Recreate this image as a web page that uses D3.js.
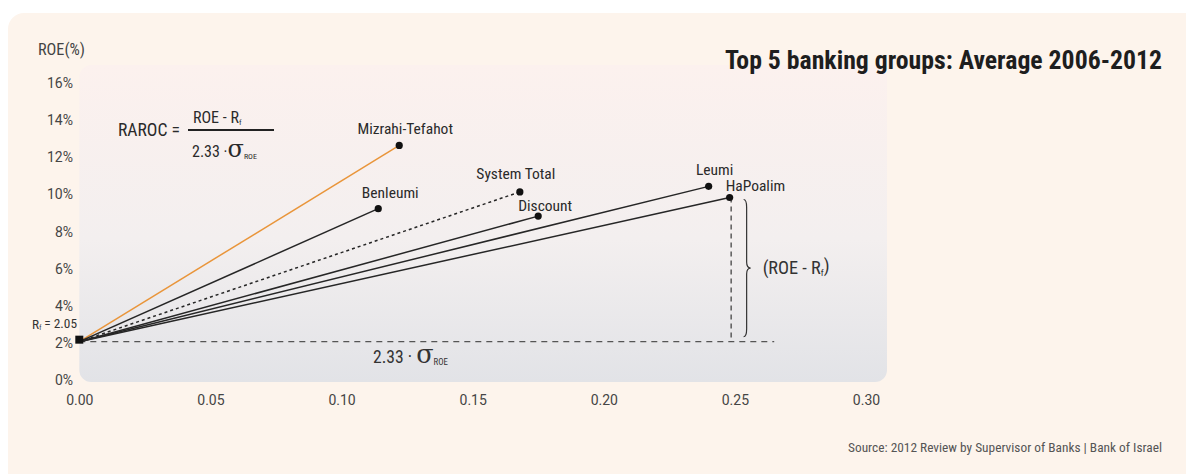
<!DOCTYPE html>
<html>
<head>
<meta charset="utf-8">
<script src="https://cdn.jsdelivr.net/npm/d3@7"></script>
<style>
    body { margin: 0; background: #ffffff; }
    .narrow { font-family: "Roboto Condensed", "Liberation Sans Narrow", "DejaVu Sans Condensed", sans-serif; }
    .tick text { font-family: Roboto, "Noto Sans", sans-serif; font-size: 14px; fill: #454545; }
</style>
</head>
<body>
<div id="chart"></div>
<script>
// data
const groups = ["Mizrahi-Tefahot", "Benleumi", "System Total", "Discount", "Leumi", "HaPoalim"];
const sigmaRoe = [0.122, 0.114, 0.168, 0.175, 0.240, 0.248];   // 2.33*sigma(ROE)
const roeValues = [12.6, 9.2, 10.1, 8.8, 10.4, 9.8];             // ROE %
const riskFree = 2.05;
const xTickValues = [0, 0.05, 0.10, 0.15, 0.20, 0.25, 0.30];
const yTickValues = [0, 2, 4, 6, 8, 10, 12, 14, 16];

const W = 1186, H = 474;

let svg = d3.select("#chart").append("svg")
    .attr("width", W)
    .attr("height", H);

// scale font size so a text gets the width it has in the reference
function fitWidth(sel, target) {
    sel.each(function() {
        let len = this.getComputedTextLength();
        let fs = parseFloat(d3.select(this).style("font-size"));
        d3.select(this).style("font-size", (fs * target / len).toFixed(2) + "px");
    });
}

// background gradient for the plot area
let defs = svg.append("defs");
let grad = defs.append("linearGradient")
    .attr("id", "plotBg")
    .attr("x1", 0).attr("y1", 0).attr("x2", 0).attr("y2", 1);
grad.append("stop").attr("offset", "0%").attr("stop-color", "#fcf1ee");
grad.append("stop").attr("offset", "55%").attr("stop-color", "#f3efef");
grad.append("stop").attr("offset", "100%").attr("stop-color", "#e2e3e7");

// cream panel
svg.append("rect")
    .attr("x", 8).attr("y", 13)
    .attr("width", W + 30).attr("height", H + 30)
    .attr("rx", 16)
    .attr("fill", "#fdf4ec");

// scales
let x = d3.scaleLinear().domain([0, 0.30]).range([79.3, 866]);
let y = d3.scaleLinear().domain([0, 16]).range([379.8, 82.2]);

// plot area
svg.append("rect")
    .attr("x", x(0)).attr("y", 65)
    .attr("width", 887 - x(0)).attr("height", 382 - 65)
    .attr("rx", 12)
    .attr("fill", "url(#plotBg)");

// axes
let xAxis = d3.axisBottom(x).tickValues(xTickValues).tickFormat(d3.format(".2f")).tickSize(0).tickPadding(0);
let yAxis = d3.axisLeft(y).tickValues(yTickValues).tickFormat(d => d + "%").tickSize(0).tickPadding(0);

let gx = svg.append("g")
    .attr("class", "x-axis")
    .attr("transform", "translate(0,405)")
    .call(xAxis);
gx.select(".domain").remove();
gx.selectAll("text").attr("dy", 0);

let gy = svg.append("g")
    .attr("class", "y-axis")
    .attr("transform", "translate(73,0)")
    .call(yAxis);
gy.select(".domain").remove();
gy.selectAll("text").attr("dy", "0.36em");

// y axis title
svg.append("text")
    .attr("class", "narrow")
    .attr("x", 38).attr("y", 55)
    .style("font-size", "15px").style("fill", "#444")
    .text("ROE(%)")
    .call(fitWidth, 47);

// reference lines for HaPoalim
let hp = groups.indexOf("HaPoalim");
svg.append("line")
    .attr("x1", x(0)).attr("x2", x(0.265))
    .attr("y1", y(riskFree)).attr("y2", y(riskFree))
    .attr("stroke", "#555").attr("stroke-width", 1.4)
    .attr("stroke-dasharray", "6,5");
svg.append("line")
    .attr("x1", x(sigmaRoe[hp]) + 1.5).attr("x2", x(sigmaRoe[hp]) + 1.5)
    .attr("y1", y(roeValues[hp])).attr("y2", y(riskFree))
    .attr("stroke", "#444").attr("stroke-width", 1.3)
    .attr("stroke-dasharray", "5,4");

// curly brace
let bx = x(sigmaRoe[hp]) + 14;
let bTop = y(roeValues[hp]) + 2, bBot = y(riskFree) - 5, bMid = (bTop + bBot) / 2;
svg.append("path")
    .attr("d", `M${bx},${bTop} Q${bx + 3},${bTop} ${bx + 3},${bTop + 8} L${bx + 3},${bMid - 6} Q${bx + 3},${bMid} ${bx + 7},${bMid} Q${bx + 3},${bMid} ${bx + 3},${bMid + 6} L${bx + 3},${bBot - 8} Q${bx + 3},${bBot} ${bx},${bBot}`)
    .attr("fill", "none").attr("stroke", "#333").attr("stroke-width", 1.2);

let rtext = svg.append("text")
    .attr("class", "narrow")
    .attr("x", bx + 19).attr("y", bMid + 6)
    .style("font-size", "18px").style("fill", "#333");
rtext.append("tspan").text("(ROE - R");
rtext.append("tspan").attr("dy", "0.2em").style("font-size", "0.5em").text("f");
rtext.append("tspan").attr("dy", "-0.2em").text(")");
rtext.call(fitWidth, 67);

// lines from risk free point
let lineGroup = svg.append("g");
lineGroup.selectAll("line")
    .data(groups)
    .enter()
    .append("line")
    .attr("x1", x(0)).attr("y1", y(riskFree))
    .attr("x2", (d, i) => x(sigmaRoe[i]))
    .attr("y2", (d, i) => y(roeValues[i]))
    .attr("stroke", d => d === "Mizrahi-Tefahot" ? "#e9953a" : "#262626")
    .attr("stroke-width", 1.5)
    .attr("stroke-dasharray", d => d === "System Total" ? "3,3" : null);

lineGroup.selectAll("circle")
    .data(groups)
    .enter()
    .append("circle")
    .attr("cx", (d, i) => x(sigmaRoe[i]))
    .attr("cy", (d, i) => y(roeValues[i]))
    .attr("r", 3.6)
    .attr("fill", "#111");

// origin marker
svg.append("rect")
    .attr("x", x(0) - 4).attr("y", y(riskFree) - 6)
    .attr("width", 8).attr("height", 8)
    .attr("fill", "#111");

// point labels
const labelPos = {
    "Mizrahi-Tefahot": [6, -11, "middle"],
    "Benleumi": [12, -11, "middle"],
    "System Total": [-4, -13, "middle"],
    "Discount": [7, -5, "middle"],
    "Leumi": [6, -11, "middle"],
    "HaPoalim": [-4, -7, "start"]
};
svg.append("g").selectAll("text")
    .data(groups)
    .enter()
    .append("text")
    .attr("class", "narrow")
    .attr("x", (d, i) => x(sigmaRoe[i]) + labelPos[d][0])
    .attr("y", (d, i) => y(roeValues[i]) + labelPos[d][1])
    .attr("text-anchor", d => labelPos[d][2])
    .style("font-size", "15.5px")
    .style("fill", "#2a2a2a")
    .text(d => d);

// risk free label
let rf = svg.append("text")
    .attr("class", "narrow")
    .attr("x", 77).attr("y", 329)
    .attr("text-anchor", "end")
    .style("font-size", "13px").style("fill", "#333");
rf.append("tspan").text("R");
rf.append("tspan").attr("dy", "0.2em").style("font-size", "0.5em").text("f");
rf.append("tspan").attr("dy", "-0.2em").text(" = 2.05");
rf.call(fitWidth, 45);

// sigma label below dashed line
let sl = svg.append("text")
    .attr("class", "narrow")
    .attr("x", 373).attr("y", 363)
    .style("font-size", "17px").style("fill", "#333");
sl.append("tspan").text("2.33 · ");
sl.append("tspan").style("font-family", "DejaVu Serif, serif").style("font-size", "1.45em").text("σ");
sl.append("tspan").attr("dy", "0.2em").style("font-size", "0.5em").text("ROE");
sl.call(fitWidth, 75);

// RAROC formula
let f = svg.append("g").attr("class", "narrow").style("fill", "#2a2a2a");
f.append("text").attr("x", 118).attr("y", 136).style("font-size", "17px").text("RAROC =")
    .call(fitWidth, 62);
let num = f.append("text").attr("x", 193).attr("y", 123).style("font-size", "16px");
num.append("tspan").text("ROE - R");
num.append("tspan").attr("dy", "0.2em").style("font-size", "0.5em").text("f");
let den = f.append("text").attr("x", 192).attr("y", 157).style("font-size", "16px");
den.append("tspan").text("2.33 ·");
den.append("tspan").style("font-family", "DejaVu Serif, serif").style("font-size", "1.5em").text("σ");
den.append("tspan").attr("dy", "0.2em").style("font-size", "0.5em").text("ROE");
let barEnd = Math.max(274, 192 + den.node().getComputedTextLength() + 8);
f.append("line").attr("x1", 188).attr("x2", barEnd).attr("y1", 130).attr("y2", 130)
    .attr("stroke", "#222").attr("stroke-width", 2);

// title
svg.append("text")
    .attr("class", "narrow")
    .attr("x", 1162).attr("y", 69)
    .attr("text-anchor", "end")
    .style("font-size", "29px").style("font-weight", "bold").style("fill", "#1e1e1e")
    .text("Top 5 banking groups: Average 2006-2012")
    .call(fitWidth, 437);

// source
svg.append("text")
    .attr("class", "narrow")
    .attr("x", 1162).attr("y", 452)
    .attr("text-anchor", "end")
    .style("font-size", "13px").style("fill", "#555")
    .text("Source: 2012 Review by Supervisor of Banks  |  Bank of Israel")
    .call(fitWidth, 314);
</script>
</body>
</html>
